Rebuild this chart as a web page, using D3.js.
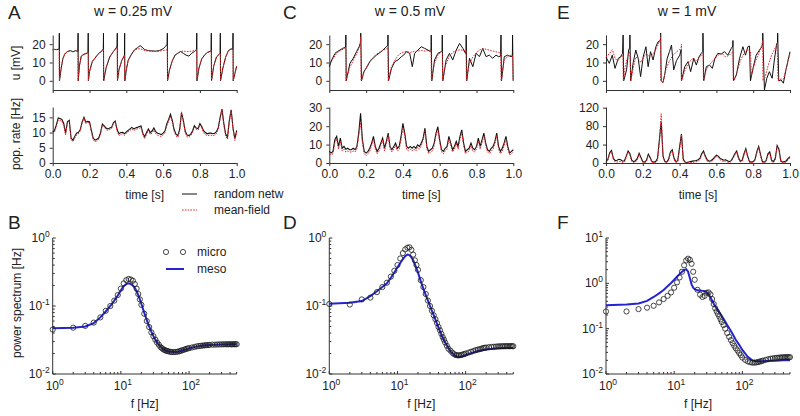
<!DOCTYPE html>
<html><head><meta charset="utf-8">
<script src="https://cdn.jsdelivr.net/npm/d3@7"></script>
<style>body{margin:0;background:#fff} svg{font-family:"Liberation Sans",Arial,sans-serif}</style>
</head><body><svg id="c" width="800" height="416"></svg>
<script>
// ---------------- DATA ----------------
const titles = ["w = 0.25 mV", "w = 0.5 mV", "w = 1 mV"];
const letters = [["A","B"],["C","D"],["E","F"]];
const timeTicks = [0, 0.2, 0.4, 0.6, 0.8, 1.0];
const uTicks = [0, 10, 20];
const rateTicksA = [0, 5, 10, 15];
const rateTicksC = [0, 10, 20, 30];
const rateTicksE = [0, 40, 80, 120];

// membrane potential traces [t (s), u (mV)]
const uA_net = [[0,17],[0.01,17.2],[0.02,17],[0.035,17.3],[0.036,26],[0.037,0],[0.045,6],[0.055,12],[0.065,14.5],[0.08,16],[0.095,16.5],[0.11,15.8],[0.125,16.5],[0.137,16],[0.138,26],[0.139,0],[0.145,8],[0.155,13.5],[0.17,14.5],[0.185,15],[0.192,15.5],[0.193,26],[0.194,0],[0.2,5],[0.215,10.5],[0.235,13],[0.25,15],[0.265,16],[0.275,17.5],[0.276,26],[0.277,0],[0.29,7],[0.31,13],[0.33,16],[0.345,18],[0.35,19],[0.351,26],[0.352,0],[0.36,6],[0.375,11],[0.39,14],[0.391,26],[0.392,0],[0.4,6],[0.41,11],[0.425,14],[0.445,17],[0.46,18],[0.475,19.2],[0.49,18],[0.5,17],[0.52,16.5],[0.54,16.3],[0.56,16.2],[0.58,16.5],[0.6,17.5],[0.615,19],[0.622,20],[0.623,26],[0.624,0],[0.635,6],[0.65,11],[0.665,14],[0.68,15],[0.695,16],[0.71,15],[0.725,14],[0.74,13.5],[0.755,15],[0.77,16],[0.782,17],[0.783,26],[0.784,0],[0.795,7],[0.81,12],[0.825,14],[0.84,15.5],[0.855,16],[0.861,16.5],[0.862,26],[0.863,0],[0.875,8],[0.89,13],[0.905,14.5],[0.91,15],[0.911,26],[0.912,0],[0.925,7],[0.94,13],[0.955,16.5],[0.97,17.5],[0.979,17],[0.98,26],[0.981,0],[0.99,4],[1.0,8]];
const uA_mf = [[0,17],[0.01,17],[0.02,17.1],[0.035,17.2],[0.036,0],[0.045,6.5],[0.055,12],[0.065,14.8],[0.08,16],[0.095,16.2],[0.11,16],[0.125,16.2],[0.137,16.2],[0.138,0],[0.145,8],[0.155,13],[0.17,14.5],[0.185,15.2],[0.193,15.5],[0.194,0],[0.2,5],[0.215,10.5],[0.235,13.2],[0.25,15],[0.265,16.2],[0.276,17.3],[0.277,0],[0.29,7],[0.31,13],[0.33,16],[0.345,17.5],[0.351,18],[0.352,0],[0.36,6],[0.375,11],[0.391,14],[0.392,0],[0.4,6],[0.41,11],[0.425,14],[0.445,16.5],[0.46,17.5],[0.475,17.5],[0.49,17],[0.5,16.5],[0.52,16.3],[0.54,16.2],[0.56,16],[0.58,16.2],[0.6,16.5],[0.615,16.8],[0.623,17],[0.624,0],[0.635,6],[0.65,11],[0.665,14],[0.68,15.2],[0.695,16],[0.71,16.2],[0.725,16],[0.74,16],[0.755,16.2],[0.77,16.5],[0.783,17],[0.784,0],[0.795,7],[0.81,12],[0.825,14],[0.84,15.5],[0.855,16],[0.862,16.5],[0.863,0],[0.875,8],[0.89,13],[0.905,14.5],[0.911,15],[0.912,0],[0.925,7],[0.94,13],[0.955,16.5],[0.97,17.3],[0.98,17],[0.981,0],[0.99,4],[1.0,8]];

const uC_net = [[0,7.7],[0.013,11.4],[0.031,15],[0.043,15.9],[0.058,16.8],[0.072,17.7],[0.085,18.2],[0.089,18.5],[0.09,25],[0.092,0],[0.112,9.5],[0.13,12.3],[0.148,15.9],[0.162,18.6],[0.17,21],[0.171,26],[0.175,0],[0.188,5],[0.206,7.7],[0.22,10.5],[0.238,12.3],[0.256,14],[0.274,15.3],[0.292,16.8],[0.31,18.6],[0.318,19.5],[0.319,25],[0.322,0],[0.338,6.8],[0.356,10.5],[0.374,11.4],[0.392,13.2],[0.404,14],[0.419,15.9],[0.437,15],[0.451,7.7],[0.464,15],[0.482,16.8],[0.5,18.6],[0.518,17.7],[0.536,16.8],[0.549,15.9],[0.553,16],[0.554,25],[0.557,0],[0.572,11.4],[0.59,15],[0.608,15.9],[0.613,16],[0.614,25],[0.617,0],[0.635,11.4],[0.653,15],[0.671,11.4],[0.69,16.8],[0.708,20.4],[0.726,17.7],[0.74,15],[0.743,15],[0.744,25],[0.747,0],[0.762,12.3],[0.78,7.7],[0.798,15],[0.816,13.2],[0.834,17.7],[0.852,13.2],[0.87,14],[0.888,12.3],[0.906,14],[0.92,13.2],[0.931,13.5],[0.933,25],[0.936,0],[0.951,13.2],[0.969,14],[0.987,13.2],[0.995,13.5],[0.996,25],[0.999,0]];
const uC_mf = [[0,9],[0.02,12],[0.04,15],[0.06,16.5],[0.08,17.5],[0.09,18],[0.091,0],[0.11,7],[0.13,11],[0.15,15],[0.165,19],[0.17,22],[0.171,24],[0.173,0],[0.19,5],[0.21,9],[0.23,12],[0.25,14],[0.27,15.5],[0.29,16.5],[0.31,17.5],[0.319,18],[0.32,0],[0.335,7],[0.355,11],[0.375,14],[0.395,15.5],[0.42,16],[0.44,15.5],[0.46,16],[0.48,16.2],[0.5,16.5],[0.52,16.2],[0.54,16.5],[0.553,17],[0.555,0],[0.57,9],[0.59,14],[0.61,16],[0.614,16],[0.616,0],[0.63,8],[0.65,13],[0.67,15.5],[0.69,16.5],[0.71,17],[0.73,16.5],[0.743,16.5],[0.745,0],[0.76,9],[0.78,13],[0.8,15.5],[0.82,17],[0.84,17.5],[0.86,17],[0.88,16.5],[0.9,16],[0.92,15.5],[0.932,15],[0.934,0],[0.95,11],[0.97,13.5],[0.99,14],[0.996,14],[1.0,0]];

const uE_net = [[0,13],[0.018,9.5],[0.034,14],[0.049,6.8],[0.067,12.3],[0.079,13],[0.09,15],[0.093,25],[0.096,0],[0.112,6],[0.123,16.8],[0.129,18],[0.13,25],[0.134,0],[0.148,10],[0.162,16.8],[0.175,12.3],[0.188,2.3],[0.202,13],[0.217,18.6],[0.229,7.7],[0.242,15.9],[0.256,11.4],[0.271,18.6],[0.283,21.3],[0.296,22],[0.297,26],[0.3,0],[0.31,-1],[0.32,4],[0.332,12],[0.345,16],[0.356,19.5],[0.368,6],[0.383,11],[0.401,14],[0.408,17],[0.41,0],[0.428,7.7],[0.446,10.5],[0.46,5],[0.477,12.3],[0.491,8.6],[0.505,13],[0.518,15],[0.526,16],[0.527,26],[0.531,0],[0.545,7.7],[0.563,8.6],[0.578,6.8],[0.592,12.3],[0.608,15],[0.626,14.6],[0.644,15.9],[0.662,14],[0.681,17.7],[0.689,19],[0.69,22],[0.693,0],[0.708,3],[0.726,12.3],[0.744,18.6],[0.758,14],[0.771,18.6],[0.78,19],[0.785,0],[0.801,7.7],[0.816,14],[0.834,16.8],[0.847,18.6],[0.851,20],[0.852,26],[0.861,-5],[0.874,1.4],[0.888,5],[0.903,1.4],[0.915,11.4],[0.928,20.4],[0.932,21],[0.933,26],[0.939,0],[0.951,0.5],[0.964,-1.3],[0.978,6],[1.0,15.9]];
const uE_mf = [[0,13],[0.02,15],[0.035,17],[0.05,12],[0.065,11],[0.08,13],[0.092,14],[0.094,0],[0.105,8],[0.12,14],[0.13,16],[0.135,0],[0.148,7],[0.162,13],[0.175,12],[0.19,10],[0.205,13],[0.22,15],[0.235,13],[0.25,14],[0.265,16],[0.28,19],[0.296,23],[0.297,25],[0.298,0],[0.31,-1],[0.325,6],[0.345,11],[0.365,14],[0.385,16],[0.4,17],[0.408,18],[0.41,20],[0.411,0],[0.43,6],[0.45,10],[0.47,12],[0.49,11],[0.51,13],[0.527,15],[0.53,0],[0.545,6],[0.565,9],[0.59,12],[0.61,14],[0.63,15],[0.65,13],[0.67,14],[0.69,16],[0.692,0],[0.71,4],[0.73,11],[0.75,15],[0.77,17],[0.785,16],[0.79,3],[0.81,10],[0.83,15],[0.845,19],[0.852,22],[0.853,0],[0.865,2],[0.88,8],[0.9,14],[0.915,17],[0.93,20],[0.935,0],[0.95,1],[0.965,1],[0.98,7],[1.0,15]];

// population rate, sampled every 10 ms
const rateT = [0,0.01,0.02,0.03,0.04,0.05,0.06,0.07,0.08,0.09,
 0.10,0.11,0.12,0.13,0.14,0.15,0.16,0.17,0.18,0.19,
 0.20,0.21,0.22,0.23,0.24,0.25,0.26,0.27,0.28,0.29,
 0.30,0.31,0.32,0.33,0.34,0.35,0.36,0.37,0.38,0.39,
 0.40,0.41,0.42,0.43,0.44,0.45,0.46,0.47,0.48,0.49,
 0.50,0.51,0.52,0.53,0.54,0.55,0.56,0.57,0.58,0.59,
 0.60,0.61,0.62,0.63,0.64,0.65,0.66,0.67,0.68,0.69,
 0.70,0.71,0.72,0.73,0.74,0.75,0.76,0.77,0.78,0.79,
 0.80,0.81,0.82,0.83,0.84,0.85,0.86,0.87,0.88,0.89,
 0.90,0.91,0.92,0.93,0.94,0.95,0.96,0.97,0.98,0.99,1.0];
const rateA_net = [10.1,10.8,12.5,14.8,14.6,14.3,13,9.8,13.5,14,
 8.2,7.5,8.8,9.8,10.1,11,13.5,15,13.4,13.7,
 13.6,10.8,8.2,7.5,7.8,8.2,10,12.8,12.2,11.5,
 11.2,11.5,11.7,13.2,13.8,11,9.6,10,10.1,9.6,
 10.2,10.7,11.2,11.7,11.2,11.5,11.7,12,12.2,9.8,
 8.6,10,11.2,10,10.5,11.5,10.3,9.8,9.6,9.3,
 9.8,10.5,12.8,14.3,16,14,11,9.5,9,11,
 16.5,14,10.5,9.2,9,9.5,10.5,12.3,11.5,11.3,
 13,12,10.6,10,9.6,9.8,9.8,9.6,9.8,10.3,
 11.7,15,17.7,13,9.5,8.5,14,17.5,11.5,8,10.7];
const rateA_mf = [9.5,10.2,12,14.2,14,13.6,12.3,9.2,13.2,13.6,
 7.6,7,8.2,9.3,9.6,10.6,13.2,14.8,13,13.3,
 13.2,10.2,7.6,7,7.3,7.8,9.6,12.5,11.8,11,
 10.7,11,11.3,12.9,13.5,10.5,9,9.4,9.6,9,
 9.7,10.2,10.7,11.2,10.6,11,11.2,11.4,11.7,9.2,
 8,9.5,10.7,9.4,9.8,10.8,9.6,9.1,8.9,8.7,
 9.2,10,12.2,13.8,15.4,13.4,10.4,8.9,8.4,10.5,
 16.8,13.6,10,8.6,8.4,9,10,11.8,11,10.8,
 12.5,11.5,10,9.3,9,9.1,9.2,8.9,9.2,9.7,
 11.2,14.6,17.5,12.6,8.8,7.8,13.6,17.3,11,7.4,10.2];
const rateC_net = [6.3,5.4,6.3,12.6,14.4,9,13.5,8,9,7.5,
 8,7.2,7.2,8,7.2,9,16.2,27,12.6,6.3,
 5.4,6.3,8,10.8,14.4,9,6.3,8,10.8,13.5,
 8,11.7,16.2,9,7.2,9,10.8,8,9,14.4,
 21.5,16.2,9,8,9,8,9,8,9.9,9,
 10.8,13.5,18.9,9,6.3,7.2,8,10.8,16.2,19.7,
 12.6,7.2,6.3,8,9,14.4,10.8,7.2,9,11.7,
 9,14.4,18,10.8,6.3,7.2,8,10.8,8,7.2,
 9,13.5,9,12.6,16.2,10.8,7.2,6.3,8,9,
 11.7,16.2,9,6.3,8,10.8,14.4,9,5.4,6.3,7.2];
const rateC_mf = [5,4.5,5,11,13,7.5,12,6.5,7.5,6,
 6.5,6,6,6.5,6,7.5,15,22,11,5,
 4,5,6.5,9.5,13,7.5,5,6.5,9.5,12.5,
 6.5,10.5,15,7.5,6,7.5,9.5,6.5,7.5,13,
 19,15,7.5,6.5,7.5,6.5,7.5,6.5,8.5,7.5,
 9.5,12.5,17.5,7.5,5,6,6.5,9.5,15,18,
 11,6,5,6.5,7.5,13,9.5,6,7.5,10.5,
 7.5,13,16.5,9.5,5,6,6.5,9.5,6.5,6,
 7.5,12,7.5,11,15,9.5,6,5,6.5,7.5,
 10.5,15,7.5,5,6.5,9.5,13,7.5,4.5,5,6];
const rateE_net = [3,8,22,27,10,5,6,8,7,4,
 5,15,26,20,6,3,5,10,21,12,
 3,2,6,19,12,3,2,3,10,50,
 90,15,3,2,8,24,29,10,3,5,
 35,63,8,2,1,2,3,4,5,5,
 7,10,20,26,15,7,4,5,8,13,
 17,15,10,8,6,7,5,3,5,12,
 20,26,12,4,6,20,31,15,3,2,
 3,8,25,36,18,3,2,5,20,24,
 6,3,10,38,30,5,2,3,5,10,14];
const rateE_mf = [1,6,20,25,8,2,2,3,3,1,
 2,12,24,17,3,1,2,7,19,9,
 1,0.5,3,17,10,1,0.5,1,6,45,
 107,12,1,0.5,5,20,25,7,1,3,
 30,62,5,0.5,0.3,0.5,1,1.5,2,2.5,
 4,7,17,24,12,4,2,3,5,10,
 14,12,7,5,3,4,2,1,3,9,
 17,24,9,2,4,17,29,12,1,0.5,
 1,5,22,34,14,1,0.5,3,17,22,
 3,1,7,36,27,2,0.5,1,2,7,12];

// power spectra
const fMicro = [1,2,3,4,5,6,7,8,9,10,11,12,13,14,15,16,17,18,19,20,
 22,24,26,28,30,32,34,36,38,40,42,44,46,48,50,
 53,56,60,64,68,72,76,80,85,90,95,
 100,110,120,130,140,150,160,170,180,190,200,
 220,240,260,280,300,320,340,360,380,400,420,440,460,480,500];
const psB_micro = [0.045,0.048,0.051,0.057,0.068,0.085,0.1,0.12,0.145,0.18,0.215,0.24,0.25,0.245,0.235,0.21,0.18,0.15,0.125,0.104,
 0.077,0.06,0.049,0.041,0.036,0.032,0.029,0.027,0.025,0.024,0.023,0.0225,0.022,0.0218,0.0215,
 0.0212,0.021,0.021,0.0211,0.0213,0.0216,0.022,0.0224,0.0228,0.0233,0.0237,
 0.024,0.0245,0.025,0.0255,0.0258,0.026,0.0262,0.0264,0.0266,0.0267,0.0268,
 0.027,0.027,0.0272,0.0272,0.0273,0.0273,0.0274,0.0273,0.0274,0.0274,0.0273,0.0274,0.0274,0.0274,0.0274];
const psD_micro = [0.107,0.105,0.125,0.133,0.16,0.19,0.22,0.27,0.33,0.4,0.5,0.6,0.68,0.72,0.73,0.67,0.57,0.47,0.4,0.34,
 0.24,0.19,0.15,0.12,0.1,0.085,0.073,0.064,0.056,0.049,0.044,0.039,0.035,0.032,0.029,
 0.026,0.0235,0.022,0.0205,0.0195,0.019,0.0188,0.0188,0.019,0.0193,0.0196,
 0.02,0.0206,0.0212,0.0218,0.0224,0.0228,0.0232,0.0236,0.024,0.0243,0.0245,
 0.0248,0.025,0.0252,0.0253,0.0255,0.0255,0.0256,0.0256,0.0256,0.0257,0.0256,0.0256,0.0257,0.0256,0.0256];
const psF_micro = [0.24,0.24,0.27,0.29,0.32,0.38,0.45,0.53,0.63,0.8,1.05,1.35,1.8,2.5,3.2,3.5,3.3,2.7,1.8,1.2,
 0.72,0.56,0.5,0.53,0.62,0.63,0.57,0.45,0.35,0.28,0.24,0.21,0.185,0.16,0.14,
 0.12,0.1,0.08,0.066,0.056,0.048,0.042,0.037,0.033,0.029,0.026,
 0.023,0.0205,0.019,0.0182,0.0178,0.0178,0.018,0.0183,0.0188,0.0192,0.0197,
 0.0205,0.0212,0.0217,0.0221,0.0224,0.0227,0.0229,0.0231,0.0232,0.0233,0.0234,0.0234,0.0235,0.0234,0.0235];
const fMeso = [1,2,3,4,5,6,7,8,9,10,11,12,13,14,15,16,17,18,19,20,22,25,28,30,32,35,40,45,50,60,70,80,90,100,120,140,160,200,250,300,400,500];
const psB_meso = [0.047,0.048,0.05,0.056,0.068,0.083,0.1,0.12,0.143,0.17,0.195,0.21,0.215,0.21,0.2,0.185,0.165,0.145,0.125,0.107,0.08,0.055,0.042,0.036,0.032,0.028,0.024,0.0222,0.0215,0.021,0.0213,0.0222,0.023,0.0238,0.025,0.0257,0.0262,0.0267,0.027,0.0272,0.0273,0.0273];
const psD_meso = [0.108,0.112,0.118,0.14,0.165,0.19,0.215,0.26,0.31,0.37,0.43,0.49,0.54,0.57,0.56,0.52,0.47,0.41,0.36,0.31,0.23,0.16,0.12,0.1,0.085,0.068,0.048,0.036,0.029,0.0215,0.0185,0.0178,0.0182,0.019,0.0203,0.0213,0.022,0.023,0.0236,0.024,0.0242,0.0242];
const psF_meso = [0.33,0.34,0.36,0.41,0.5,0.6,0.71,0.86,1.02,1.2,1.4,1.6,1.8,1.95,2.05,1.8,1.3,0.95,0.8,0.74,0.7,0.69,0.67,0.64,0.58,0.45,0.31,0.24,0.19,0.12,0.082,0.057,0.044,0.034,0.024,0.02,0.019,0.019,0.0195,0.0197,0.02,0.02];

// ---------------- DRAWING ----------------
const svg = d3.select("#c");
const colX = [52.7, 329.3, 606];
const PW = 184;
const AX = "#333", TXT = "#222", RED = "#e3262b", BLUE = "#2424d0";
const FS = 12;

function styleAxis(g) {
  g.selectAll("path,line").attr("stroke", AX).attr("stroke-width", 1);
  g.selectAll("text").attr("fill", TXT).style("font-size", FS + "px").style("font-family", '"Liberation Sans",Arial,sans-serif');
}
function txt(x, y, s, size, anchor, rot) {
  const t = svg.append("text").attr("x", x).attr("y", y).text(s)
    .attr("fill", TXT).style("font-size", size + "px").attr("text-anchor", anchor || "middle");
  if (rot) t.attr("transform", `rotate(-90,${x},${y})`);
  return t;
}

function timePanel(ci, uNet, uMf, rNet, rMf, rMax, rTicks) {
  const x0 = colX[ci];
  const x = d3.scaleLinear().domain([0, 1]).range([x0, x0 + PW]);
  // top: membrane potential
  const yu = d3.scaleLinear().domain([-5, 25]).range([90, 35]);
  const gx = svg.append("g").attr("transform", "translate(0,90)")
    .call(d3.axisBottom(x).tickValues(timeTicks).tickFormat("").tickSize(3).tickSizeOuter(0));
  styleAxis(gx);
  const gy = svg.append("g").attr("transform", `translate(${x0},0)`)
    .call(d3.axisLeft(yu).tickValues(uTicks).tickSize(3).tickSizeOuter(0).tickPadding(4));
  styleAxis(gy);
  const lu = d3.line().x(d => x(d[0])).y(d => yu(d[1]));
  svg.append("path").datum(uNet).attr("d", lu).attr("fill", "none").attr("stroke", "#111").attr("stroke-width", 1);
  svg.append("path").datum(uMf).attr("d", lu).attr("fill", "none").attr("stroke", RED).attr("stroke-width", 1).attr("stroke-dasharray", "1.6,1.2");
  // bottom: population rate
  const yr = d3.scaleLinear().domain([0, rMax]).range([163, 107]);
  const gx2 = svg.append("g").attr("transform", "translate(0,163)")
    .call(d3.axisBottom(x).tickValues(timeTicks).tickFormat(d3.format(".1f")).tickSize(3).tickSizeOuter(0).tickPadding(3));
  styleAxis(gx2);
  const gy2 = svg.append("g").attr("transform", `translate(${x0},0)`)
    .call(d3.axisLeft(yr).tickValues(rTicks).tickSize(3).tickSizeOuter(0).tickPadding(4));
  styleAxis(gy2);
  const lr = d3.line().x((d, i) => x(rateT[i])).y(d => yr(d));
  svg.append("path").datum(rNet).attr("d", lr).attr("fill", "none").attr("stroke", "#111").attr("stroke-width", 1.1);
  svg.append("path").datum(rMf).attr("d", lr).attr("fill", "none").attr("stroke", RED).attr("stroke-width", 1).attr("stroke-dasharray", "1.6,1.2");
  txt(x0 + PW / 2, 199, "time [s]", FS);
}

function supLabel(g, x, y, exp, anchor) {
  const t = g.append("text").attr("x", x).attr("y", y).attr("text-anchor", anchor)
    .attr("fill", TXT).style("font-size", FS + "px");
  t.append("tspan").text("10");
  t.append("tspan").text(exp).attr("dy", -5).style("font-size", "8.5px");
}

function specPanel(ci, micro, meso, yMaxExp) {
  const x0 = colX[ci];
  const x = d3.scaleLog().domain([1, 500]).range([x0, x0 + PW]);
  const y = d3.scaleLog().domain([0.01, Math.pow(10, yMaxExp)]).range([374, 238]);
  const g = svg.append("g");
  g.append("line").attr("x1", x0).attr("x2", x0 + PW).attr("y1", 374).attr("y2", 374).attr("stroke", AX);
  g.append("line").attr("x1", x0).attr("x2", x0).attr("y1", 238).attr("y2", 374).attr("stroke", AX);
  const xt = [];
  for (let e = 0; e <= 2; e++) for (let m = 1; m <= 9; m++) { const v = m * Math.pow(10, e); if (v <= 500) xt.push([v, m === 1]); }
  xt.forEach(([v, maj]) => g.append("line").attr("x1", x(v)).attr("x2", x(v)).attr("y1", 374).attr("y2", 374 - (maj ? 3 : 2)).attr("stroke", AX));
  [0, 1, 2].forEach(e => supLabel(g, x(Math.pow(10, e)) + 2, 390, String(e), "middle"));
  for (let e = -2; e < yMaxExp; e++) for (let m = 2; m <= 9; m++) {
    const v = m * Math.pow(10, e);
    g.append("line").attr("x1", x0).attr("x2", x0 + 2).attr("y1", y(v)).attr("y2", y(v)).attr("stroke", AX);
  }
  for (let e = -2; e <= yMaxExp; e++) {
    g.append("line").attr("x1", x0).attr("x2", x0 + 3).attr("y1", y(Math.pow(10, e))).attr("y2", y(Math.pow(10, e))).attr("stroke", AX);
    supLabel(g, x0 - 3, y(Math.pow(10, e)) + 4, e === 0 ? "0" : (e > 0 ? String(e) : "-" + (-e)), "end");
  }
  svg.append("path").datum(meso).attr("fill", "none").attr("stroke", BLUE).attr("stroke-width", 2)
    .attr("d", d3.line().x((d, i) => x(fMeso[i])).y(d => y(d)));
  svg.append("g").selectAll("circle").data(micro).join("circle")
    .attr("cx", (d, i) => x(fMicro[i])).attr("cy", d => y(d)).attr("r", 2.6)
    .attr("fill", "none").attr("stroke", "#1a1a1a").attr("stroke-width", 0.8);
  txt(x0 + PW / 2, 408, "f [Hz]", FS);
}

timePanel(0, uA_net, uA_mf, rateA_net, rateA_mf, 18.4, rateTicksA);
timePanel(1, uC_net, uC_mf, rateC_net, rateC_mf, 30.4, rateTicksC);
timePanel(2, uE_net, uE_mf, rateE_net, rateE_mf, 121.5, rateTicksE);
specPanel(0, psB_micro, psB_meso, 0);
specPanel(1, psD_micro, psD_meso, 0);
specPanel(2, psF_micro, psF_meso, 1);

[133, 410, 687].forEach((cx, i) => txt(cx, 16, titles[i], 14));
[8, 283, 557].forEach((lx, i) => {
  txt(lx, 19, letters[i][0], 19, "start");
  txt(lx, 229, letters[i][1], 19, "start");
});
txt(20, 63, "u [mV]", FS, "middle", true);
txt(20, 134, "pop. rate [Hz]", FS, "middle", true);
txt(21, 303, "power spectrum [Hz]", FS, "middle", true);

svg.append("line").attr("x1", 182).attr("x2", 197).attr("y1", 194).attr("y2", 194).attr("stroke", "#111");
txt(214, 198, "random netw", FS, "start");
svg.append("line").attr("x1", 182).attr("x2", 197).attr("y1", 210).attr("y2", 210).attr("stroke", RED).attr("stroke-dasharray", "1.6,1.2");
txt(214, 214, "mean-field", FS, "start");
[166, 183].forEach(cx => svg.append("circle").attr("cx", cx).attr("cy", 252).attr("r", 2.6)
  .attr("fill", "none").attr("stroke", "#1a1a1a").attr("stroke-width", 0.8));
txt(197, 256, "micro", FS, "start");
svg.append("line").attr("x1", 166).attr("x2", 184).attr("y1", 269).attr("y2", 269).attr("stroke", BLUE).attr("stroke-width", 2);
txt(197, 273, "meso", FS, "start");
</script></body></html>
